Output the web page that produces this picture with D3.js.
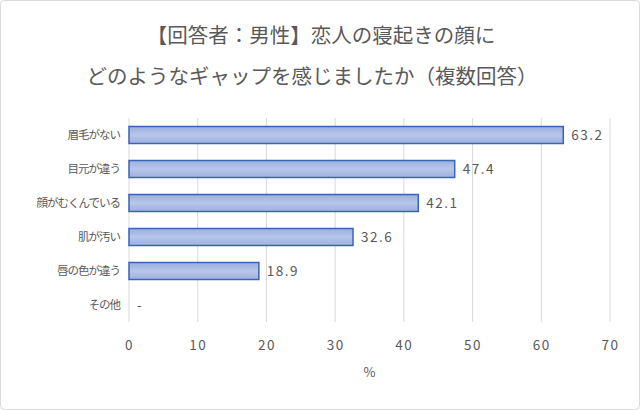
<!DOCTYPE html>
<html>
<head>
<meta charset="utf-8">
<script src="https://cdn.jsdelivr.net/npm/d3@7"></script>
<style>
  body { margin: 0; background: #fff; }
  text { font-family: "Noto Sans CJK JP", "Noto Sans", sans-serif; fill: #595959; }
</style>
</head>
<body>
<div id="chart"></div>
<script>
// chart data
var categories = ["眉毛がない", "目元が違う", "顔がむくんでいる", "肌が汚い", "唇の色が違う", "その他"]
var values = [63.2, 47.4, 42.1, 32.6, 18.9, null]
var xTicks = [0, 10, 20, 30, 40, 50, 60, 70]
var titleLines = ["【回答者：男性】恋人の寝起きの顔に", "どのようなギャップを感じましたか（複数回答）"]
var xTitle = "%"

var width = 640, height = 410
var margin = {top: 118, right: 30, bottom: 88, left: 129}

var svg = d3.select("#chart")
  .append("svg")
    .attr("width", width)
    .attr("height", height)

// outer frame
svg.append("rect")
  .attr("x", 0.5).attr("y", 0.5)
  .attr("width", width - 1).attr("height", height - 1)
  .attr("rx", 4)
  .attr("fill", "#fff")
  .attr("stroke", "#d9d9d9")

var defs = svg.append("defs")
var grad = defs.append("linearGradient")
  .attr("id", "barGrad")
  .attr("x1", 0).attr("y1", 0).attr("x2", 0).attr("y2", 1)
grad.append("stop").attr("offset", "0%").attr("stop-color", "#9bb0df")
grad.append("stop").attr("offset", "50%").attr("stop-color", "#b7c6ea")
grad.append("stop").attr("offset", "100%").attr("stop-color", "#9eb1de")

var x = d3.scaleLinear()
  .domain([0, 70])
  .range([margin.left, width - margin.right])

var y = d3.scaleBand()
  .domain(categories)
  .range([margin.top, height - margin.bottom])
  .paddingInner(0.5)
  .paddingOuter(0.25)

// title
svg.selectAll(".title")
  .data(titleLines)
  .enter()
  .append("text")
    .attr("class", "title")
    .attr("x", function(d, i) { return i == 0 ? 321 : 312 })
    .attr("y", function(d, i) { return 43 + i * 41 })
    .attr("text-anchor", "middle")
    .attr("font-size", "20.5px")
    .text(function(d) { return d })

// gridlines
svg.selectAll(".grid")
  .data(xTicks)
  .enter()
  .append("line")
    .attr("class", "grid")
    .attr("x1", function(d) { return x(d) })
    .attr("x2", function(d) { return x(d) })
    .attr("y1", margin.top)
    .attr("y2", height - margin.bottom)
    .attr("stroke", "#d9d9d9")
    .attr("stroke-width", 1)

// x axis tick labels
var xAxis = d3.axisBottom(x).tickValues(xTicks).tickSize(0).tickPadding(0)
var gx = svg.append("g")
  .attr("transform", "translate(0," + (height - margin.bottom + 18) + ")")
  .call(xAxis)
gx.select(".domain").remove()
gx.selectAll("text")
  .attr("font-size", "13.5px")
  .attr("fill", "#595959")
  .style("letter-spacing", "1.5px")
  .style("font-family", "'Noto Sans CJK JP', sans-serif")

// y axis category labels
var yAxis = d3.axisLeft(y).tickSize(0).tickPadding(9)
var gy = svg.append("g")
  .attr("transform", "translate(" + margin.left + ",0)")
  .call(yAxis)
gy.select(".domain").remove()
gy.selectAll("text")
  .attr("font-size", "11.5px")
  .attr("fill", "#595959")
  .style("letter-spacing", "-1px")
  .style("font-family", "'Noto Sans CJK JP', sans-serif")

// bars
svg.selectAll(".bar")
  .data(categories)
  .enter()
  .filter(function(d, i) { return values[i] != null })
  .append("rect")
    .attr("class", "bar")
    .attr("x", x(0))
    .attr("y", function(d) { return y(d) })
    .attr("width", function(d) { return x(values[categories.indexOf(d)]) - x(0) })
    .attr("height", y.bandwidth())
    .attr("fill", "url(#barGrad)")
    .attr("stroke", "#3a64b8")
    .attr("stroke-width", 1.5)

// value labels
svg.selectAll(".val")
  .data(categories)
  .enter()
  .append("text")
    .attr("class", "val")
    .attr("x", function(d, i) { return x(values[i] == null ? 0 : values[i]) + 8 })
    .attr("y", function(d) { return y(d) + y.bandwidth() / 2 })
    .attr("dy", "0.35em")
    .attr("font-size", "13.5px")
    .style("letter-spacing", "1.5px")
    .text(function(d, i) { return values[i] == null ? "-" : d3.format(".1f")(values[i]) })

// axis title
svg.append("text")
  .attr("x", (x(0) + x(70)) / 2)
  .attr("y", 377)
  .attr("text-anchor", "middle")
  .attr("font-size", "13px")
  .text(xTitle)
</script>
</body>
</html>
